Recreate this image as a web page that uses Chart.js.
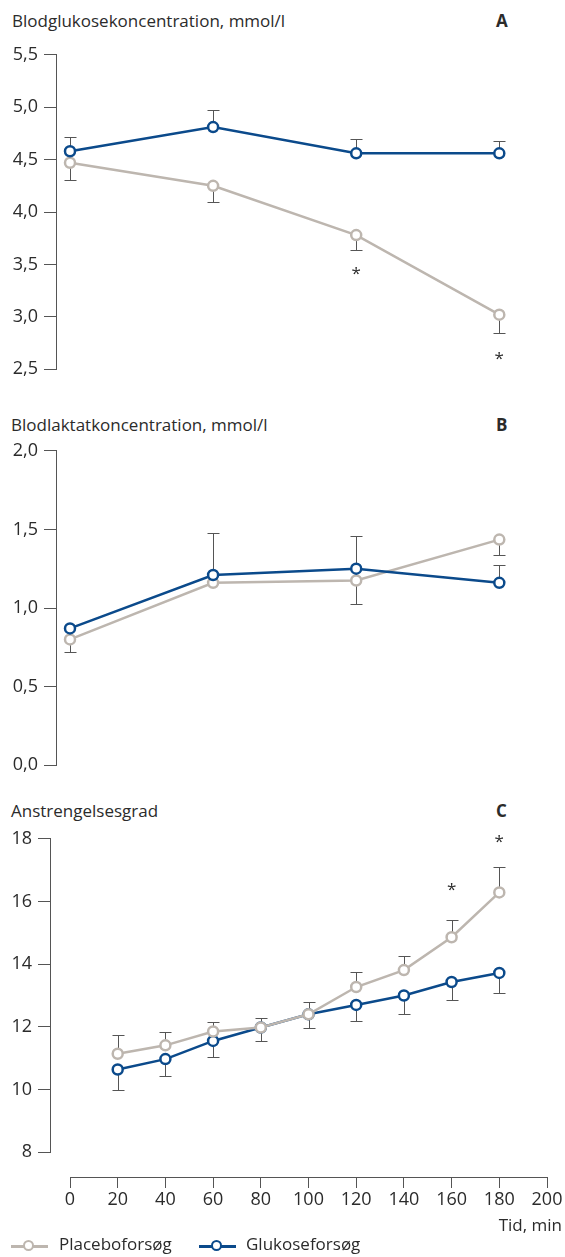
<!DOCTYPE html>
<html>
<head>
<meta charset="utf-8">
<script src="https://cdn.jsdelivr.net/npm/chart.js@4"></script>
<style>
  body { margin: 0; background: #fff; }
  #wrap { position: relative; width: 565px; height: 1257px; overflow: hidden; font-family: "Open Sans", sans-serif; color: #2b2b2b; }
  canvas { position: absolute; left: 0; }
  .txt { position: absolute; font-size: 17px; line-height: 20px; white-space: nowrap; }
  .letter { font-weight: bold; }
  .lline { position: absolute; height: 3px; width: 37px; }
  .ldot { position: absolute; width: 7px; height: 7px; border-radius: 50%; background: #fff; border: 2.5px solid; }
</style>
</head>
<body>
<div id="wrap">
  <div class="txt" style="left:12px;top:11px">Blodglukosekoncentration, mmol/l</div>
  <div class="txt letter" style="left:496px;top:11px">A</div>
  <canvas id="chartA" width="565" height="348" style="top:38px"></canvas>

  <div class="txt" style="left:11px;top:415px">Blodlaktatkoncentration, mmol/l</div>
  <div class="txt letter" style="left:496px;top:415px">B</div>
  <canvas id="chartB" width="565" height="348" style="top:434px"></canvas>

  <div class="txt" style="left:11px;top:801px">Anstrengelsesgrad</div>
  <div class="txt letter" style="left:496px;top:801px">C</div>
  <canvas id="chartC" width="565" height="347" style="top:822px"></canvas>

  <canvas id="chartX" width="565" height="80" style="top:1147px"></canvas>
  <div class="txt" style="right:3px;top:1215px">Tid, min</div>

  <div class="lline" style="left:11px;top:1245px;background:#bdb6af"></div>
  <div class="ldot" style="left:23px;top:1240px;border-color:#bdb6af"></div>
  <div class="txt" style="left:59px;top:1234px">Placeboforsøg</div>
  <div class="lline" style="left:199px;top:1245px;background:#0b4a8b"></div>
  <div class="ldot" style="left:211px;top:1240px;border-color:#0b4a8b"></div>
  <div class="txt" style="left:246px;top:1234px">Glukoseforsøg</div>
</div>
<script>
// tid, min
const timesAB = [0, 60, 120, 180];
const timesC = [20, 40, 60, 80, 100, 120, 140, 160, 180];

// A: blodglukose, mmol/l
const glucosePlacebo = [4.47, 4.25, 3.78, 3.02];
const glucosePlaceboErr = [4.31, 4.10, 3.64, 2.85];
const glucoseGlukose = [4.58, 4.81, 4.56, 4.56];
const glucoseGlukoseErr = [4.72, 4.975, 4.70, 4.68];
const glucoseStars = [[120, 3.44], [180, 2.62]];

// B: blodlaktat, mmol/l
const lactatePlacebo = [0.80, 1.16, 1.175, 1.435];
const lactatePlaceboErr = [0.72, null, 1.025, 1.34];
const lactateGlukose = [0.87, 1.21, 1.25, 1.16];
const lactateGlukoseErr = [null, 1.48, 1.46, 1.275];

// C: anstrengelsesgrad
const effortPlacebo = [11.14, 11.41, 11.85, 11.98, 12.40, 13.27, 13.81, 14.86, 16.29];
const effortPlaceboErr = [11.75, 11.82, 12.14, 12.29, 12.78, 13.74, 14.27, 15.40, 17.10];
const effortGlukose = [10.64, 10.97, 11.55, 11.98, 12.40, 12.70, 13.00, 13.43, 13.72];
const effortGlukoseErr = [10.00, 10.42, 11.05, 11.54, 11.97, 12.18, 12.40, 12.86, 13.08];
const effortStars = [[160, 16.45], [180, 17.98]];

const xTicks = [0, 20, 40, 60, 80, 100, 120, 140, 160, 180, 200];

const GRAY = "#bdb6af";
const BLUE = "#0b4a8b";
const INK = "#2b2b2b";
const AXIS = "#555";
const FONT = "'Open Sans', sans-serif";

const errorBars = {
  id: "errorBars",
  beforeDatasetsDraw(chart) {
    const ctx = chart.ctx;
    const xs = chart.scales.x, ys = chart.scales.y;
    ctx.save();
    ctx.strokeStyle = AXIS;
    ctx.lineWidth = 1;
    chart.data.datasets.forEach(ds => {
      ds.data.forEach((p, i) => {
        const end = ds.errEnds[i];
        if (end == null) return;
        const px = Math.round(xs.getPixelForValue(p.x)) + 0.5;
        const py = ys.getPixelForValue(p.y);
        const pe = Math.round(ys.getPixelForValue(end)) + 0.5;
        ctx.beginPath();
        ctx.moveTo(px, py);
        ctx.lineTo(px, pe);
        ctx.moveTo(px - 6, pe);
        ctx.lineTo(px + 6, pe);
        ctx.stroke();
      });
    });
    ctx.restore();
  },
  afterDatasetsDraw(chart) {
    const stars = chart.options.plugins.errorBars.stars || [];
    const ctx = chart.ctx;
    ctx.save();
    ctx.fillStyle = INK;
    ctx.font = "17px " + FONT;
    ctx.textAlign = "center";
    ctx.textBaseline = "middle";
    stars.forEach(s => {
      ctx.fillText("*", chart.scales.x.getPixelForValue(s[0]), chart.scales.y.getPixelForValue(s[1]) + 3);
    });
    ctx.restore();
  }
};

function series(times, values, errs, color, order) {
  return {
    data: times.map((t, i) => ({ x: t, y: values[i] })),
    errEnds: errs,
    borderColor: color,
    borderWidth: 2.5,
    pointRadius: 5,
    pointBorderWidth: 2.5,
    pointBackgroundColor: "#fff",
    pointBorderColor: color,
    order: order
  };
}

function panel(id, datasets, yMin, yMax, step, axisX, digits, stars) {
  // x = 0 sits at 70 px, x = 200 at 547 px; the y axis line is left of it
  const xMin = -(70 - axisX) * 200 / 477;
  new Chart(document.getElementById(id), {
    type: "line",
    data: { datasets: datasets },
    options: {
      responsive: false,
      animation: false,
      layout: { padding: { top: 14, bottom: 14, left: 0, right: 18 } },
      plugins: { legend: { display: false }, tooltip: { enabled: false }, errorBars: { stars: stars } },
      scales: {
        x: { type: "linear", display: false, min: xMin, max: 200 },
        y: {
          min: yMin, max: yMax,
          afterFit(s) { s.width = axisX; },
          ticks: {
            stepSize: step, color: INK, padding: 6,
            font: { family: FONT, size: 18 },
            callback: v => v.toFixed(digits).replace(".", ",")
          },
          grid: { drawOnChartArea: false, tickLength: 12, color: AXIS, lineWidth: 1 },
          border: { color: AXIS, width: 1 }
        }
      }
    },
    plugins: [errorBars]
  });
}

panel("chartA", [
  series(timesAB, glucosePlacebo, glucosePlaceboErr, GRAY, 2),
  series(timesAB, glucoseGlukose, glucoseGlukoseErr, BLUE, 1)
], 2.5, 5.5, 0.5, 56, 1, glucoseStars);

panel("chartB", [
  series(timesAB, lactatePlacebo, lactatePlaceboErr, GRAY, 2),
  series(timesAB, lactateGlukose, lactateGlukoseErr, BLUE, 1)
], 0, 2, 0.5, 56, 1, []);

panel("chartC", [
  series(timesC, effortPlacebo, effortPlaceboErr, GRAY, 1),
  series(timesC, effortGlukose, effortGlukoseErr, BLUE, 2)
], 8, 18, 2, 50, 0, effortStars);

// shared time axis below panel C
new Chart(document.getElementById("chartX"), {
  type: "line",
  data: { datasets: [] },
  options: {
    responsive: false,
    animation: false,
    layout: { padding: { top: 0, bottom: 0, left: 70, right: 18 } },
    plugins: { legend: { display: false }, tooltip: { enabled: false } },
    scales: {
      y: { display: false },
      x: {
        type: "linear", min: 0, max: 200,
        afterFit(s) { s.height = 50; },
        afterBuildTicks(s) { s.ticks = xTicks.map(v => ({ value: v })); },
        ticks: { color: INK, padding: 1, maxRotation: 0, font: { family: FONT, size: 18 } },
        grid: { drawOnChartArea: false, tickLength: 11, color: AXIS, lineWidth: 1 },
        border: { color: AXIS, width: 1 }
      }
    }
  }
});
</script>
</body>
</html>
